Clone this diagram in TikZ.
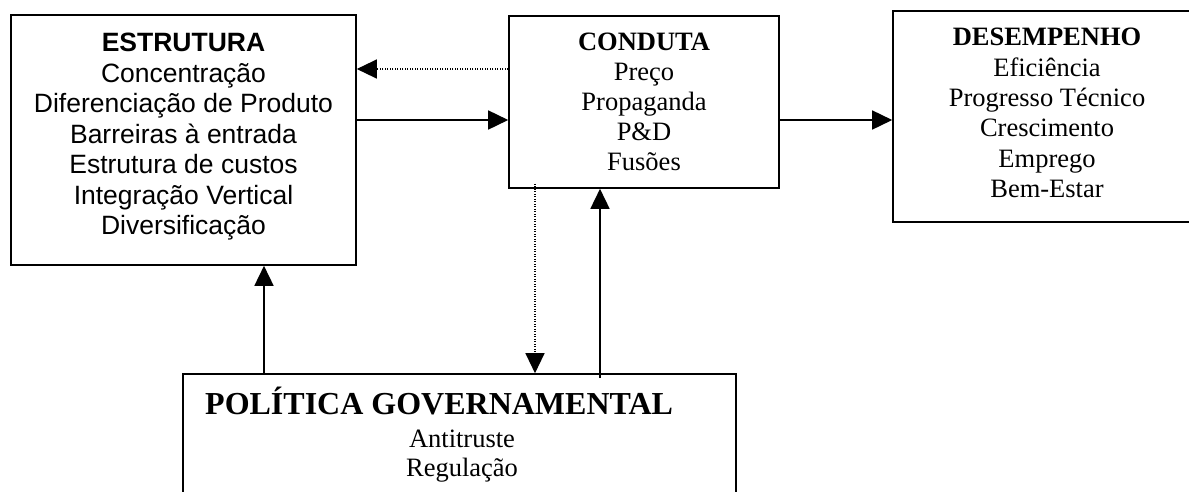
\documentclass[tikz,border=0pt]{standalone}
\usepackage{fontspec}
\setmainfont{Liberation Serif}
\newfontfamily\arialfont{Liberation Sans}
\usetikzlibrary{arrows.meta}
\tikzset{
  box/.style={draw=black, line width=1.6pt, inner sep=0pt, fill=none},
  arr/.style={line width=1.6pt, -{Triangle[length=20pt,width=19pt]}},
  dotarr/.style={line width=1.2pt, dash pattern=on 1pt off 1.5pt, -{Triangle[length=20pt,width=19pt]}},
  txt/.style={font=\fontsize{26.5}{30.5}\selectfont, inner sep=0pt, align=center},
}
\begin{document}
\begin{tikzpicture}[x=1pt,y=-1pt]
\useasboundingbox (0,0) rectangle (1189,491);
\clip (0,0) rectangle (1189,491);
\fill[white] (0,0) rectangle (1189,491);
% boxes
\node[box, minimum width=345pt, minimum height=250pt] (E) at (183.5,140) {};
\node[txt, font=\arialfont\fontsize{26.5}{30.5}\selectfont] (Et) at (183.5,137)
  {\textbf{ESTRUTURA}\\Concentração\\Diferenciação de Produto\\Barreiras à entrada\\Estrutura de custos\\Integração Vertical\\Diversificação};
\node[box, minimum width=270pt, minimum height=172pt] (C) at (644,102) {};
\node[txt, font=\fontsize{26.5}{30}\selectfont] (Ct) at (644,102)
  {\textbf{CONDUTA}\\Preço\\Propaganda\\P\&D\\Fusões};
\node[box, minimum width=308pt, minimum height=211pt] (D) at (1047,116.5) {};
\node[txt, font=\fontsize{26.5}{30.4}\selectfont] (Dt) at (1047,113)
  {\textbf{DESEMPENHO}\\Eficiência\\Progresso Técnico\\Crescimento\\Emprego\\Bem-Estar};
\node[box, minimum width=553pt, minimum height=150pt] (P) at (459.5,449) {};
\node[anchor=base west, inner sep=0pt, font=\bfseries\fontsize{32}{36}\selectfont] (Ptitle) at (205,414) {POLÍTICA GOVERNAMENTAL};
\node[txt, anchor=base] (Pa) at (462,447) {Antitruste};
\node[txt, anchor=base] (Pb) at (462,476) {Regulação};
% connectors
\draw[dotarr] ([yshift=33pt]C.west) -- ([yshift=33pt]C.west -| E.east);
\draw[arr] ([yshift=-18pt]C.west -| E.east) -- ([yshift=-18pt]C.west);
\draw[arr] ([yshift=-18pt]C.east) -- ([yshift=-18pt]C.east -| D.west);
\draw[arr] ([xshift=80.5pt]E.south |- P.north) -- ([xshift=80.5pt]E.south);
\draw[dotarr] ([xshift=-109pt,yshift=5pt]C.south) -- ([xshift=-109pt]C.south |- P.north);
\draw[arr] ([xshift=-44pt,yshift=-5pt]C.south |- P.north) -- ([xshift=-44pt]C.south);
\end{tikzpicture}
\end{document}
